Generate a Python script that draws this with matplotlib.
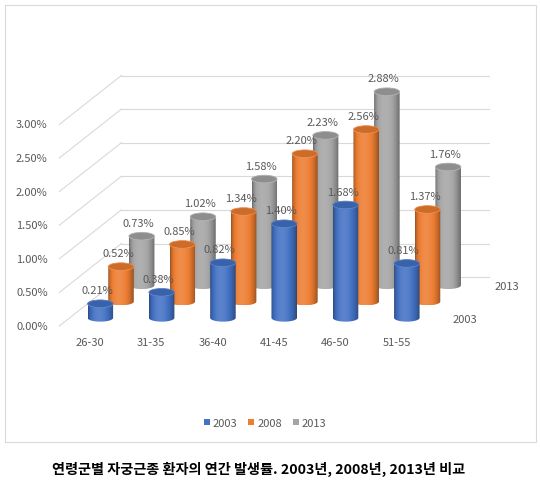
import numpy as np
import matplotlib
matplotlib.use("Agg")
import matplotlib.pyplot as plt
from matplotlib.patches import Polygon, Ellipse, Rectangle, Patch
from matplotlib.colors import to_rgb

# ---- data ----
categories = ["26-30", "31-35", "36-40", "41-45", "46-50", "51-55"]
series_names = ["2003", "2008", "2013"]
v2003 = [0.21, 0.38, 0.82, 1.40, 1.68, 0.81]
v2008 = [0.52, 0.85, 1.34, 2.20, 2.56, 1.37]
v2013 = [0.73, 1.02, 1.58, 2.23, 2.88, 1.76]
yticks = [0.0, 0.5, 1.0, 1.5, 2.0, 2.5, 3.0]
depth_labels = ["2003", "", "2013"]
colors = ["#4472C4", "#ED7D31", "#A5A5A5"]
title = "연령군별 자궁근종 환자의 연간 발생률. 2003년, 2008년, 2013년 비교"

plt.rcParams['font.family'] = ['Noto Sans CJK KR', 'DejaVu Sans']

W, H = 540, 481
fig = plt.figure(figsize=(W / 100, H / 100), dpi=100)
ax = fig.add_axes([0, 0, 1, 1])
ax.axis('off')

# layout (pixels per unit, origin of front floor)
PXX, PXY = 61.3, 67.2
OX, OY = 90, 327
ax.set_xlim((0 - OX) / PXX, (W - OX) / PXX)
ax.set_ylim((OY - H) / PXY, OY / PXY)

ddx = 20.67 / PXX          # depth step per series (x)
ddy = 16.3 / PXY           # depth step per series (y)
nser = 3
Dx, Dy = nser * ddx, nser * ddy
x0, x1 = -0.5, len(categories) - 0.5
grid_c = "#d9d9d9"
txt_c = "#595959"
fs = 8

# gridlines: side wall diagonals + back wall horizontals
for v in yticks:
    ax.plot([x0, x0 + Dx], [v, v + Dy], color=grid_c, lw=0.8, zorder=1)
    ax.plot([x0 + Dx, x1 + Dx], [v + Dy, v + Dy], color=grid_c, lw=0.8, zorder=1)
    ax.text(x0 - 0.19, v, f"{v:.2f}%", ha='right', va='center', fontsize=fs, color=txt_c)

for i, c in enumerate(categories):
    ax.text(i, -0.24, c, ha='center', va='center', fontsize=fs, color=txt_c)

for s, lab in enumerate(depth_labels):
    if lab:
        ax.text(x1 + (s + 0.5) * ddx + 0.25, (s + 0.5) * ddy - 0.01, lab,
                ha='left', va='center', fontsize=fs, color=txt_c)

bw = 25.5 / PXX
eh = 3.8 / PXY
tt = np.linspace(0, 1, 80)
prof = 0.6 + 0.52 * np.sin(np.pi * tt ** 0.8) ** 0.7


def shade(col, l):
    c = np.array(to_rgb(col))
    if l < 1:
        return c * l
    return c + (1 - c) * (l - 1)


def cylinder(cx, base, h, col, z):
    t = np.linspace(0, np.pi, 50)
    bottom = np.column_stack([cx + bw / 2 * np.cos(t), base - eh * np.sin(t)])
    top = np.column_stack([cx - bw / 2 * np.cos(t), base + h - eh * np.sin(t)])
    poly = Polygon(np.vstack([bottom, top]), closed=True, fc='none', ec='none', zorder=z)
    ax.add_patch(poly)
    grad = np.array([shade(col, l) for l in prof])[None, :, :]
    im = ax.imshow(grad, extent=(cx - bw / 2, cx + bw / 2, base - eh, base + h),
                   aspect='auto', zorder=z, interpolation='bilinear')
    im.set_clip_path(poly)
    ax.add_patch(Ellipse((cx, base + h), bw, 2 * eh, fc=shade(col, 0.86),
                         ec=shade(col, 1.1), lw=0.6, zorder=z + 0.1))


values = [v2003, v2008, v2013]
for s in reversed(range(nser)):
    for i, v in enumerate(values[s]):
        cx = i + (s + 0.5) * ddx
        base = (s + 0.5) * ddy
        cylinder(cx, base, v, colors[s], 10 + (nser - s) * 10 + i * 0.5)
        ax.text(cx - 0.05, base + v + 0.2, f"{v:.2f}%", ha='center', va='center',
                fontsize=fs, color=txt_c, zorder=200)

ax.set_xlim((0 - OX) / PXX, (W - OX) / PXX)
ax.set_ylim((OY - H) / PXY, OY / PXY)

# chart border
fig.add_artist(Rectangle((5 / W, 1 - 443 / H), 531 / W, 437 / H, transform=fig.transFigure,
                         fill=False, ec="#d9d9d9", lw=0.8))

handles = [Patch(facecolor=c, edgecolor='none') for c in colors]
fig.legend(handles, series_names, loc='center', bbox_to_anchor=(265 / W, 1 - 424 / H),
           ncol=3, frameon=False, fontsize=fs, handlelength=0.55, handleheight=0.55,
           handletextpad=0.25, columnspacing=1.0, labelcolor=txt_c)

fig.text(259 / W, 1 - 469 / H, title, ha='center', va='center', fontsize=10.2,
         fontweight='bold', color='black')

fig.savefig("out.png", dpi=100)
